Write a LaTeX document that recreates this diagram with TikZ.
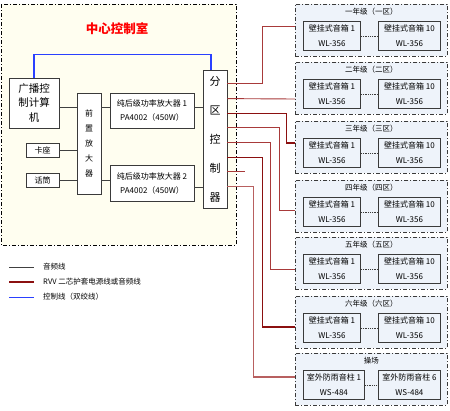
\documentclass[tikz,border=0pt]{standalone}
\usepackage{fontspec}
\setmainfont{Noto Sans CJK SC}
\usetikzlibrary{calc}
\definecolor{bgy}{HTML}{FFFEF0}
\definecolor{zonebg}{HTML}{EEF3FA}
\definecolor{boxc}{HTML}{3A3A3A}
\definecolor{audc}{HTML}{404040}
\definecolor{rthinc}{HTML}{A83A3A}
\definecolor{rthickc}{HTML}{8B1010}
\definecolor{rlightc}{HTML}{B86060}
\definecolor{ctlc}{HTML}{2A40FF}
\begin{document}
\begin{tikzpicture}[x=1pt,y=-1pt,
  dashdot/.style={dash pattern=on 4pt off 2pt on 1pt off 2pt},
  room/.style={draw=black, line width=0.9pt, dashdot, fill=bgy},
  zone/.style={draw=boxc, line width=0.7pt, dashdot, fill=zonebg, minimum width=152pt, minimum height=52pt, inner sep=0pt},
  box/.style={draw=boxc, line width=0.8pt, fill=white, inner sep=0pt, align=center, font=\fontsize{8}{14}\selectfont},
  spk/.style={draw=boxc, line width=0.9pt, fill=zonebg, inner sep=0pt, align=center, minimum height=29pt, font=\fontsize{8}{15}\selectfont},
  zt/.style={font=\fontsize{7.5}{9}\selectfont, inner sep=0pt},
  aud/.style={draw=audc, line width=0.8pt},
  rthin/.style={draw=rthinc, line width=0.9pt},
  rthick/.style={draw=rthickc, line width=1.4pt},
  rlight/.style={draw=rlightc, line width=1.3pt},
  ctl/.style={draw=ctlc, line width=1.1pt},
  lgtext/.style={anchor=west, inner sep=0pt, font=\fontsize{7.5}{9}\selectfont}
]
\useasboundingbox (0,0) rectangle (450,410);
\fill[white] (0,0) rectangle (450,410);

% central control room
\draw[room] (1,4) rectangle (236,245);
\node[text=red, font=\fontsize{12.5}{14}\selectfont\bfseries, inner sep=0pt] (title) at (117,29) {中心控制室};

\node[box, minimum width=50pt, minimum height=50pt, font=\fontsize{10.5}{14.5}\selectfont] (comp) at (34,103) {广播控\\制计算\\机};
\node[box, minimum width=24pt, minimum height=101pt, font=\fontsize{8}{15}\selectfont] (pre) at (89,143.5) {前\\置\\放\\大\\器};
\node[box, minimum width=33pt, minimum height=14pt] (ka) at (42.5,150) {卡座};
\node[box, minimum width=33pt, minimum height=14pt] (hua) at (42.5,180) {话筒};
\node[box, minimum width=84pt, minimum height=35pt] (amp1) at (152,110.5) {纯后级功率放大器 1\\PA4002（450W）};
\node[box, minimum width=84pt, minimum height=36pt] (amp2) at (152,183) {纯后级功率放大器 2\\PA4002（450W）};
\node[box, minimum width=24pt, minimum height=138pt, font=\fontsize{11}{29}\selectfont] (ctrl) at (215,139) {分\\区\\控\\制\\器};

% audio connectors
\coordinate (r1) at (0,107);
\coordinate (r2) at (0,180);
\coordinate (r3) at (0,187);
\draw[aud] (comp.east |- r1) -- (pre.west |- r1);
\draw[aud] (ka.east) -- (ka.east -| pre.west);
\draw[aud] (hua.east) -- (hua.east -| pre.west);
\draw[aud] (pre.east |- r1) -- (amp1.west |- r1);
\draw[aud] (pre.east |- r2) -- (amp2.west |- r2);
\draw[aud] (amp1.east |- r1) -- (ctrl.west |- r1);
\draw[aud] (amp2.east |- r3) -- (ctrl.west |- r3);

% control line
\draw[ctl] (comp.north) -- ++(0,-23) -| ($(ctrl.north)+(-4,0)$);

% zones
\foreach \i/\t/\lab/\na/\nb/\model/\wa in {
  1/4/一年级（一区）/壁挂式音箱 1/壁挂式音箱 10/WL-356/57,
  2/62/二年级（二区）/壁挂式音箱 1/壁挂式音箱 10/WL-356/57,
  3/121/三年级（三区）/壁挂式音箱 1/壁挂式音箱 10/WL-356/57,
  4/180/四年级（四区）/壁挂式音箱 1/壁挂式音箱 10/WL-356/57,
  5/237/五年级（五区）/壁挂式音箱 1/壁挂式音箱 10/WL-356/57,
  6/296/六年级（六区）/壁挂式音箱 1/壁挂式音箱 10/WL-356/57,
  7/353/操场/室外防雨音柱 1/室外防雨音柱 6/WS-484/61} {
  \node[zone, anchor=north west] (z\i) at (295,\t) {};
  \node[zt] (zt\i) at ($(z\i.north)+(0,8)$) {\lab};
  \node[spk, minimum width=\wa pt, anchor=north west] (sa\i) at ($(z\i.north west)+(8,17)$) {\na\\\model};
  \node[spk, minimum width=62pt, anchor=north west] (sb\i) at ($(z\i.north west)+(83,17)$) {\nb\\\model};
  \draw[boxc, line width=0.8pt, densely dotted] (sa\i.east) -- (sb\i.west);
}

% red lines from zone controller
\coordinate (c1) at ($(ctrl.north east)+(0,14)$);
\coordinate (c2) at ($(ctrl.north east)+(0,29)$);
\coordinate (c3) at ($(ctrl.north east)+(0,44)$);
\coordinate (c4) at ($(ctrl.north east)+(0,58)$);
\coordinate (c5) at ($(ctrl.north east)+(0,73)$);
\coordinate (c6) at ($(ctrl.north east)+(0,88)$);
\coordinate (c7) at ($(ctrl.north east)+(0,102)$);
\coordinate (c8) at ($(ctrl.north east)+(0,117)$);
\coordinate (e1) at ($(z1.north west)+(0,22)$);
\coordinate (e2) at ($(z2.north west)+(0,37)$);
\coordinate (e3) at ($(z3.north west)+(0,22)$);
\coordinate (e4) at ($(z4.north west)+(0,30)$);
\coordinate (e5) at ($(z5.north west)+(0,32)$);
\coordinate (e6) at ($(z6.north west)+(0,31)$);
\coordinate (e7) at ($(z7.north west)+(0,24)$);
\draw[rthin] (c1) -- ++(35,0) |- (e1);
\draw[rthin] (c2) -- (e2);
\draw[rthick] (c3) -- ++(59,0) |- (e3);
\draw[rthin] (c4) -- ++(52,0) |- (e4);
\draw[rthin] (c5) -- ++(43,0) |- (e5);
\draw[rthick] (c6) -- ++(35,0) |- (e6);
\coordinate (stub) at ($(c7)+(18,0)$);
\draw[rthin] (c7) -- (stub);
\draw[rlight] (c8) -- ++(26,0) |- (e7);

% legend
\coordinate (lg1) at (9,267);
\coordinate (lg2) at (9,282);
\coordinate (lg3) at (9,297);
\draw[aud] (lg1) -- ++(25,0);
\draw[draw=rthickc, line width=1.1pt] (lg2) -- ++(25,0);
\draw[ctl, line width=0.9pt] (lg3) -- ++(25,0);
\node[lgtext] (lt1) at (43,267) {音频线};
\node[lgtext] (lt2) at (43,282) {RVV 二芯护套电源线或音频线};
\node[lgtext] (lt3) at (43,297) {控制线（双绞线）};
\end{tikzpicture}
\end{document}
